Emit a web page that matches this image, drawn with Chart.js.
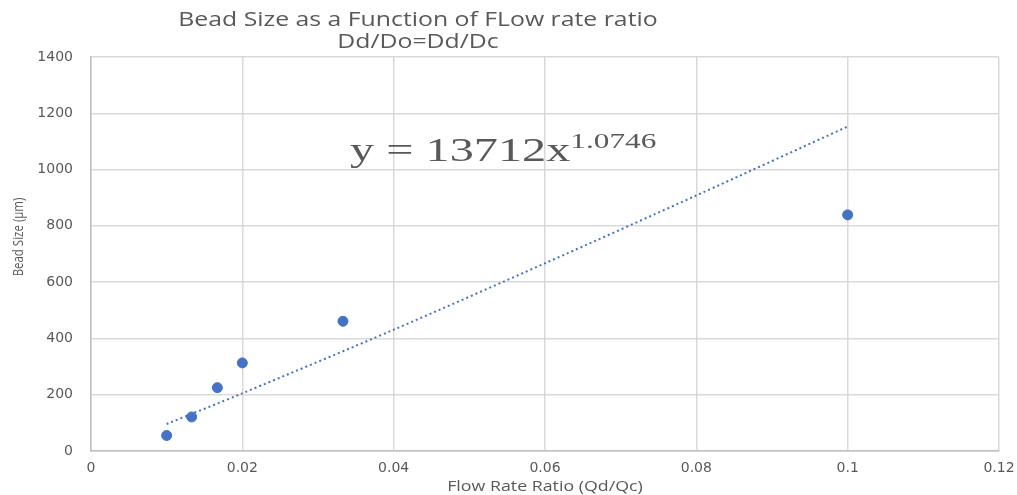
<!DOCTYPE html>
<html>
<head>
<meta charset="utf-8">
<script src="https://cdn.jsdelivr.net/npm/chart.js@4.4.0/dist/chart.umd.min.js"></script>
<style>
  html, body { margin: 0; padding: 0; background: #fff; }
</style>
</head>
<body>
<canvas id="beadChart" width="1017" height="495"></canvas>
<script>
// measured bead sizes
const flowRatio = [0.01, 0.0133, 0.0167, 0.02, 0.0333, 0.1];
const beadSize = [55, 121, 225, 313, 461, 839];

// power trendline
const trendX = [0.01, 0.02, 0.04, 0.06, 0.08, 0.1];
const trendY = [96, 205, 431, 667, 908, 1153];

const titleLines = ['Bead Size as a Function of FLow rate ratio', 'Dd/Do=Dd/Dc'];
const xTitle = 'Flow Rate Ratio (Qd/Qc)';
const yTitle = 'Bead Size (\u00b5m)';
const trendLabel = 'y = 13712x';
const trendPower = '1.0746';

const grey = '#595959';
const blue = '#4472C4';

// draw text stretched sideways, like the picture
function wideText(ctx, text, x, y, sx) {
    ctx.save();
    ctx.translate(x, y);
    ctx.scale(sx, 1);
    ctx.fillText(text, 0, 0);
    ctx.restore();
}

const textPlugin = {
    id: 'textPlugin',
    afterDraw(chart) {
        const ctx = chart.ctx;
        const area = chart.chartArea;
        ctx.save();
        ctx.fillStyle = grey;
        ctx.textAlign = 'center';
        ctx.textBaseline = 'middle';

        // title
        ctx.font = '20px "Open Sans"';
        wideText(ctx, titleLines[0], 418, 20, 1.24);
        wideText(ctx, titleLines[1], 418, 42, 1.24);

        // axis titles
        ctx.font = '14px "Open Sans"';
        wideText(ctx, xTitle, (area.left + area.right) / 2, 487, 1.27);
        ctx.save();
        ctx.translate(19, 237);
        ctx.rotate(-Math.PI / 2);
        ctx.font = '14px "Open Sans"';
        wideText(ctx, yTitle, 0, 0, 0.82);
        ctx.restore();

        // trendline equation
        ctx.save();
        ctx.translate(350, 148);
        ctx.scale(1.42, 1);
        ctx.textAlign = 'left';
        ctx.textBaseline = 'alphabetic';
        ctx.font = '34px "Liberation Serif"';
        ctx.fillText(trendLabel, 0, 13);
        const w = ctx.measureText(trendLabel).width;
        ctx.font = '22px "Liberation Serif"';
        ctx.fillText(trendPower, w, 0);
        ctx.restore();

        ctx.restore();
    }
};

new Chart(document.getElementById('beadChart'), {
    type: 'scatter',
    data: {
        datasets: [{
            label: 'Bead size',
            data: flowRatio.map((x, i) => ({ x: x, y: beadSize[i] })),
            backgroundColor: blue,
            borderColor: blue,
            pointRadius: 5,
            pointHoverRadius: 5,
            order: 1
        }, {
            label: 'Power trend',
            type: 'line',
            data: trendX.map((x, i) => ({ x: x, y: trendY[i] })),
            borderColor: blue,
            borderWidth: 2,
            borderDash: [2, 3],
            pointRadius: 0,
            fill: false,
            tension: 0.3,
            order: 2
        }]
    },
    options: {
        responsive: false,
        animation: false,
        events: [],
        layout: { padding: { top: 57, right: 0, left: 0, bottom: 0 } },
        plugins: {
            legend: { display: false },
            title: { display: false },
            tooltip: { enabled: false }
        },
        scales: {
            x: {
                type: 'linear',
                min: 0,
                max: 0.12,
                ticks: {
                    stepSize: 0.02,
                    maxRotation: 0,
                    autoSkip: false,
                    color: grey,
                    font: { family: 'DejaVu Sans', size: 14 },
                    padding: 9,
                    callback: v => String(Math.round(v * 100) / 100)
                },
                grid: { color: '#d9d9d9', lineWidth: 1.5, drawTicks: false },
                border: { color: '#bfbfbf', width: 1.5 },
                afterFit(scale) {
                    scale.height = 44;
                    scale.paddingLeft = 0;
                    scale.paddingRight = 18;
                }
            },
            y: {
                min: 0,
                max: 1400,
                ticks: {
                    stepSize: 200,
                    autoSkip: false,
                    color: grey,
                    font: { family: 'DejaVu Sans', size: 14 },
                    padding: 18,
                    callback: v => String(v)
                },
                grid: { color: '#d9d9d9', lineWidth: 1.5, drawTicks: false },
                border: { color: '#bfbfbf', width: 1.5 },
                afterFit(scale) {
                    scale.width = 91;
                    scale.paddingTop = 0;
                    scale.paddingBottom = 0;
                }
            }
        }
    },
    plugins: [textPlugin]
});
</script>
</body>
</html>
